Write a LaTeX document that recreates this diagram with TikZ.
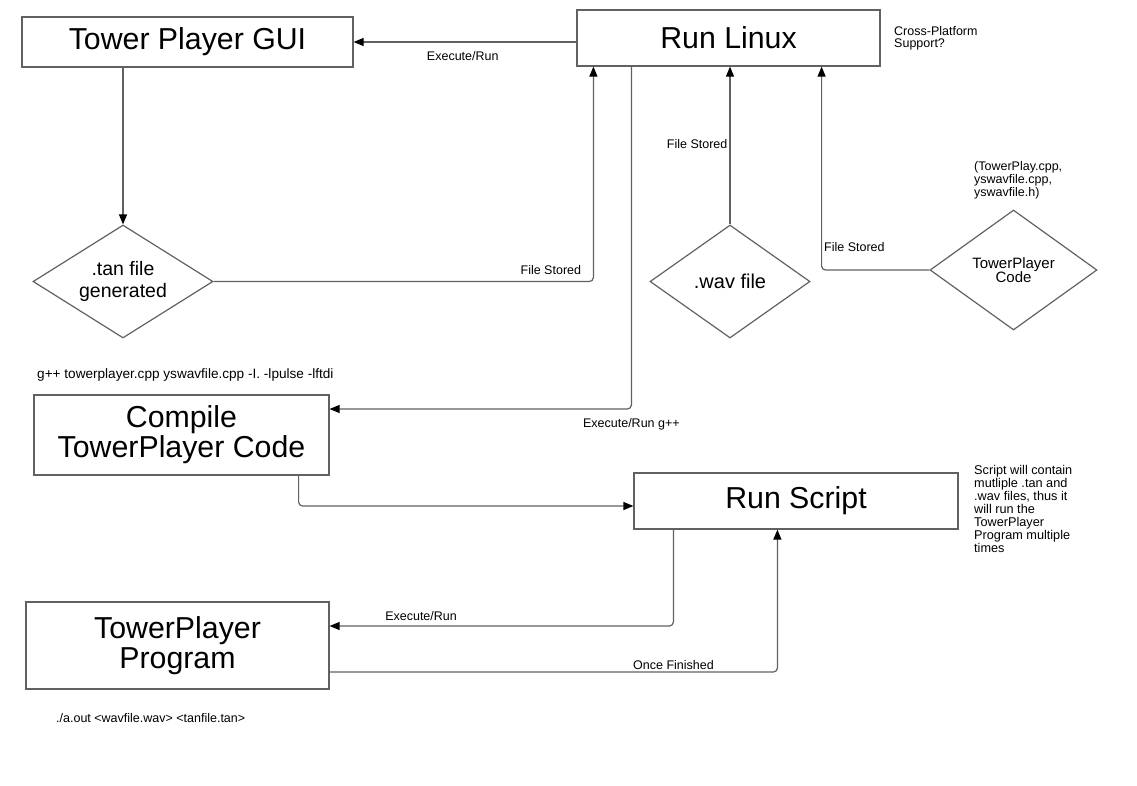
\documentclass[tikz,border=0pt]{standalone}
\usepackage{fontspec}
\setmainfont{Liberation Sans}
\usetikzlibrary{arrows.meta,positioning,shapes.geometric}
\begin{document}
\begin{tikzpicture}[x=1pt,y=-1pt,
  box/.style={draw=black!62,line width=1.2pt,rectangle,inner sep=0pt,align=center,font=\fontsize{30.3}{30}\selectfont},
  choice/.style={draw=black!62,line width=1.2pt,diamond,inner sep=0pt,align=center},
  conn/.style={draw=black!62,line width=1.2pt,rounded corners=4pt,-{Triangle[length=10pt,width=8pt,color=black]}},
  lbl/.style={font=\fontsize{12.5}{12}\selectfont,inner sep=2pt},
  note/.style={font=\fontsize{12.5}{12}\selectfont,align=left,inner sep=0pt}]
    \useasboundingbox (0,0) rectangle (1137,785);
    \node [box,minimum width=331,minimum height=50] (gui) at (187.5,42) [] {Tower Player GUI};
    \node [box,minimum width=303,minimum height=56] (linux) at (728.5,38) [] {Run Linux};
    \node [box,minimum width=295,minimum height=80] (compile) at (181.5,435) [] {Compile\\TowerPlayer Code};
    \node [box,minimum width=324,minimum height=56] (script) at (796,501) [] {Run Script};
    \node [box,minimum width=303,minimum height=87] (program) at (177.5,645.5) [] {TowerPlayer\\Program};
    \node [choice,aspect=1.6,minimum width=180,minimum height=113,font=\fontsize{19.5}{22}\selectfont] (tan) at (123,281.5) [] {.tan file\\generated};
    \node [choice,aspect=1.4,minimum width=160,minimum height=113,font=\fontsize{20}{22}\selectfont] (wav) at (730,281.5) [] {.wav file};
    \node [choice,aspect=1.4,minimum width=167,minimum height=120,font=\fontsize{15}{14}\selectfont] (code) at (1013.5,270) [] {TowerPlayer\\Code};
    \node [note,anchor=north west] (cross) at (894,26) [] {Cross-Platform\\Support?};
    \node [note,anchor=north west,font=\fontsize{12.5}{13}\selectfont] (files) at (974,161) [] {(TowerPlay.cpp,\\yswavfile.cpp,\\yswavfile.h)};
    \node [note,anchor=west,font=\fontsize{13.6}{13}\selectfont] (gcmd) at (37,375) [] {g++ towerplayer.cpp yswavfile.cpp -I. -lpulse -lftdi};
    \node [note,anchor=north west,font=\fontsize{12.7}{13}\selectfont] (remark) at (974,465) [] {Script will contain\\mutliple .tan and\\.wav files, thus it\\will run the\\TowerPlayer\\Program multiple\\times};
    \node [note,anchor=west] (aout) at (56,718) [] {./a.out <wavfile.wav> <tanfile.tan>};
    \draw [conn] (linux.west |- gui.east) to node [lbl,pos=0.51,below=7pt] {Execute/Run} (gui.east);
    \draw [conn] (tan.north |- gui.south) to (tan.north);
    \draw [conn] (tan.east) -| node [lbl,pos=0.444,above=4pt] {File Stored} ([xshift=17]linux.south west);
    \draw [conn] (wav.north) to node [lbl,pos=0.51,left] {File Stored} (wav.north |- linux.south);
    \draw [conn] (code.west) -| node [lbl,pos=0.557,right] {File Stored} ([xshift=-59]linux.south east);
    \draw [conn] ([xshift=55]linux.south west) |- node [lbl,pos=0.5,below=7pt] {Execute/Run g++} ([yshift=26]compile.east);
    \draw [conn] ([xshift=-31]compile.south east) |- ([yshift=-5]script.west);
    \draw [conn] ([xshift=40]script.south west) |- node [lbl,pos=0.867,above=3pt] {Execute/Run} ([yshift=19.5]program.east);
    \draw [conn] ([yshift=-26.5]program.east) -| node [lbl,pos=0.384,above] {Once Finished} ([xshift=144]script.south west);
\end{tikzpicture}
\end{document}
